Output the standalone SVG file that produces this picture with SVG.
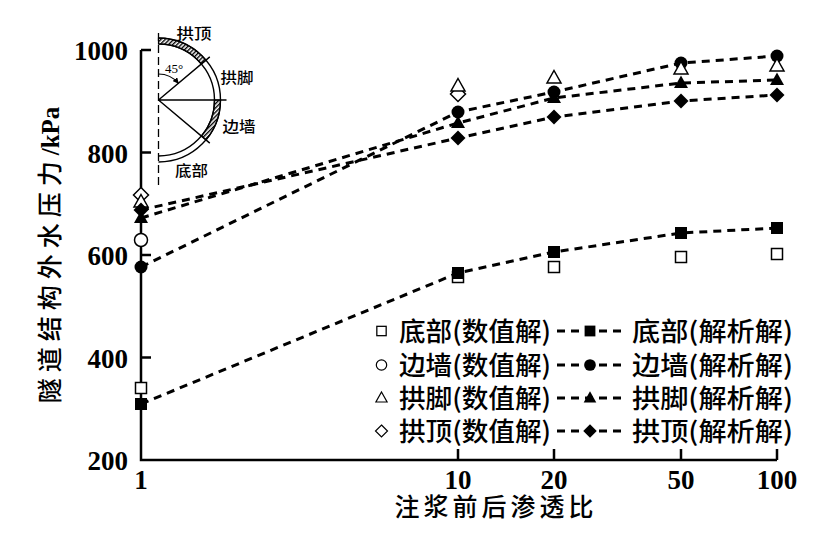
<svg xmlns="http://www.w3.org/2000/svg" xmlns:xlink="http://www.w3.org/1999/xlink" width="839" height="539" viewBox="0 0 839 539">
<style>
.ax{stroke:#000;stroke-width:2.5;fill:none}
.num{font-family:"Liberation Serif","Times New Roman",serif;font-weight:bold;font-size:27px;fill:#000}
.cjk{font-family:"Noto Sans CJK SC","Noto Sans",sans-serif;fill:#000;font-weight:500}
.dl{stroke:#000;stroke-width:3;fill:none;stroke-dasharray:8 6;stroke-linejoin:round}
.thin{stroke:#000;stroke-width:1.4;fill:none}
</style>
<defs>
<pattern id="hatch" patternUnits="userSpaceOnUse" width="3" height="3" patternTransform="rotate(45)"><rect width="3" height="3" fill="#fff"/><line x1="0.7" y1="0" x2="0.7" y2="3" stroke="#000" stroke-width="1.4"/></pattern>
<marker id="ah" viewBox="0 0 10 10" refX="9" refY="5" markerWidth="6" markerHeight="6" orient="auto" markerUnits="userSpaceOnUse"><path d="M0,0 L10,5 L0,10 Z" fill="#000"/></marker>
<rect id="fsq" x="-6" y="-6" width="12" height="12" fill="#000"/>
<rect id="osq" x="-5.5" y="-5.5" width="11" height="11" fill="#fff" stroke="#000" stroke-width="1.5"/>
<circle id="fci" r="6.5" fill="#000"/>
<circle id="oci" r="6.5" fill="#fff" stroke="#000" stroke-width="1.5"/>
<polygon id="ftr" points="0,-7.5 7,5 -7,5" fill="#000"/>
<polygon id="otr" points="0,-7.5 7,5 -7,5" fill="#fff" stroke="#000" stroke-width="1.5"/>
<polygon id="fdi" points="0,-7.5 7.5,0 0,7.5 -7.5,0" fill="#000"/>
<polygon id="odi" points="0,-7.5 7.5,0 0,7.5 -7.5,0" fill="#fff" stroke="#000" stroke-width="1.5"/>
</defs>
<rect width="839" height="539" fill="#fff"/>

<g id="axes">
<path class="ax" d="M141,50 L141,460 L777,460"/>
<path class="ax" d="M141,50 H151 M141,152.5 H151 M141,255 H151 M141,357.5 H151"/>
<path class="ax" d="M458,460 V449 M554,460 V449 M681,460 V449 M777,460 V449"/>
<g class="num" text-anchor="end">
<text x="128" y="60">1000</text>
<text x="128" y="162.5">800</text>
<text x="128" y="265">600</text>
<text x="128" y="367.5">400</text>
<text x="128" y="470">200</text>
</g>
<g class="num" text-anchor="middle">
<text x="141" y="489">1</text>
<text x="458" y="489">10</text>
<text x="554" y="489">20</text>
<text x="681" y="489">50</text>
<text x="777" y="489">100</text>
</g>
<text class="cjk" x="496" y="516" font-size="25" text-anchor="middle" letter-spacing="4">注浆前后渗透比</text>
<text class="cjk" transform="translate(50,255) rotate(-90)" x="0" y="9" font-size="25" text-anchor="middle"><tspan letter-spacing="6">隧道结构外水压力</tspan><tspan font-family="Liberation Serif, serif" font-weight="bold">/kPa</tspan></text>
</g>

<g id="inset">
<line x1="158.5" y1="33" x2="158.5" y2="188" stroke="#000" stroke-width="1.3" stroke-dasharray="8 4"/>
<path d="M158.5,38 A62,62 0 0 1 206,60.15 L201.4,64 A56,56 0 0 0 158.5,44 Z" fill="url(#hatch)" stroke="#000" stroke-width="1.2"/>
<path d="M220.5,100 A62,62 0 0 1 206,139.85 L201.4,136 A56,56 0 0 0 214.5,100 Z" fill="url(#hatch)" stroke="#000" stroke-width="1.2"/>
<path class="thin" d="M158.5,38 A62,62 0 0 1 158.5,162"/>
<path class="thin" d="M158.5,44 A56,56 0 0 1 158.5,156"/>
<path class="thin" d="M158.5,100 L209.8,56.9 M158.5,100 L226.5,100 M158.5,100 L209.8,143.1"/>
<path d="M158.5,74 A26,26 0 0 1 178.4,83.3" stroke="#000" stroke-width="1.2" fill="none" marker-end="url(#ah)"/>
<text x="174" y="73" font-family="Liberation Serif, serif" font-size="13" text-anchor="middle">45°</text>
<g class="cjk" font-size="15">
<text x="176.5" y="38.5" textLength="35" lengthAdjust="spacingAndGlyphs">拱顶</text>
<text x="220.5" y="82.5" textLength="33" lengthAdjust="spacingAndGlyphs">拱脚</text>
<text x="222.5" y="132" textLength="33" lengthAdjust="spacingAndGlyphs">边墙</text>
<text x="175" y="175.5" textLength="33" lengthAdjust="spacingAndGlyphs">底部</text>
</g>
</g>

<g id="connectors">
<polyline class="dl" points="141,404 458,273 554,252 681,233 777,228"/>
<polyline class="dl" points="141,267 458,112 554,92 681,63 777,56"/>
<polyline class="dl" points="141,218 458,123 554,98 681,83 777,80"/>
<polyline class="dl" points="141,210 458,138 554,117 681,101 777,95"/>
</g>

<g id="series-bottom-num">
<use xlink:href="#osq" x="141" y="388"/>
<use xlink:href="#osq" x="458" y="277"/>
<use xlink:href="#osq" x="554" y="267"/>
<use xlink:href="#osq" x="681" y="257"/>
<use xlink:href="#osq" x="777" y="254"/>
</g>
<g id="series-wall-num">
<use xlink:href="#oci" x="141" y="240"/>
</g>
<g id="series-bottom-ana">
<use xlink:href="#fsq" x="141" y="404"/>
<use xlink:href="#fsq" x="458" y="273"/>
<use xlink:href="#fsq" x="554" y="252"/>
<use xlink:href="#fsq" x="681" y="233"/>
<use xlink:href="#fsq" x="777" y="228"/>
</g>
<g id="series-wall-ana">
<use xlink:href="#fci" x="141" y="267"/>
<use xlink:href="#fci" x="458" y="112"/>
<use xlink:href="#fci" x="554" y="92"/>
<use xlink:href="#fci" x="681" y="63"/>
<use xlink:href="#fci" x="777" y="56"/>
</g>
<g id="series-crown-num">
<use xlink:href="#odi" x="141" y="195"/>
<use xlink:href="#odi" x="458" y="94"/>
</g>
<g id="series-foot-num">
<use xlink:href="#otr" x="141" y="202"/>
<use xlink:href="#otr" x="458" y="86"/>
<use xlink:href="#otr" x="554" y="78"/>
<use xlink:href="#otr" x="681" y="69"/>
<use xlink:href="#otr" x="777" y="66"/>
</g>
<g id="series-foot-ana">
<use xlink:href="#ftr" x="141" y="218"/>
<use xlink:href="#ftr" x="458" y="123"/>
<use xlink:href="#ftr" x="554" y="98"/>
<use xlink:href="#ftr" x="681" y="83"/>
<use xlink:href="#ftr" x="777" y="80"/>
</g>
<g id="series-crown-ana">
<use xlink:href="#fdi" x="141" y="210"/>
<use xlink:href="#fdi" x="458" y="138"/>
<use xlink:href="#fdi" x="554" y="117"/>
<use xlink:href="#fdi" x="681" y="101"/>
<use xlink:href="#fdi" x="777" y="95"/>
</g>

<g id="legend">
<g class="cjk" font-size="26">
<text x="399" y="341" textLength="152" lengthAdjust="spacingAndGlyphs">底部(数值解)</text>
<text x="632" y="341" textLength="161" lengthAdjust="spacingAndGlyphs">底部(解析解)</text>
<text x="399" y="375" textLength="152" lengthAdjust="spacingAndGlyphs">边墙(数值解)</text>
<text x="632" y="375" textLength="161" lengthAdjust="spacingAndGlyphs">边墙(解析解)</text>
<text x="399" y="408" textLength="152" lengthAdjust="spacingAndGlyphs">拱脚(数值解)</text>
<text x="632" y="408" textLength="161" lengthAdjust="spacingAndGlyphs">拱脚(解析解)</text>
<text x="399" y="441" textLength="152" lengthAdjust="spacingAndGlyphs">拱顶(数值解)</text>
<text x="632" y="441" textLength="161" lengthAdjust="spacingAndGlyphs">拱顶(解析解)</text>
</g>
<use xlink:href="#osq" transform="translate(381.5,331) scale(0.85)"/>
<use xlink:href="#oci" transform="translate(381.5,365) scale(0.8)"/>
<use xlink:href="#otr" transform="translate(381.5,398) scale(0.8)"/>
<use xlink:href="#odi" transform="translate(381.5,431) scale(0.8)"/>
<path class="dl" d="M557,331 H623 M557,365 H623 M557,398 H623 M557,431 H623"/>
<use xlink:href="#fsq" transform="translate(590,331) scale(0.9)"/>
<use xlink:href="#fci" transform="translate(590,365) scale(0.9)"/>
<use xlink:href="#ftr" transform="translate(590,398) scale(0.9)"/>
<use xlink:href="#fdi" transform="translate(590,431) scale(0.9)"/>
</g>
</svg>
